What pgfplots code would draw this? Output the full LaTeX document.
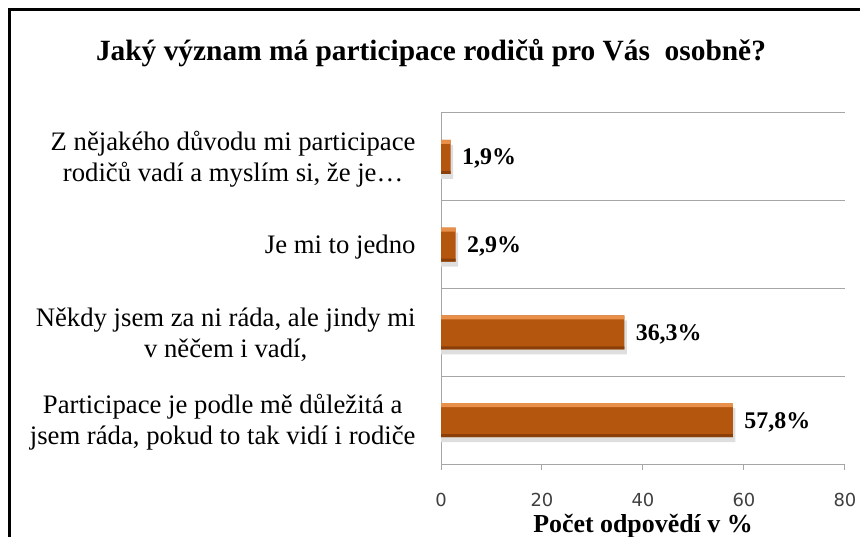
\documentclass[border=0pt]{standalone}
\usepackage{pgfplots}
\pgfplotsset{compat=1.18}
\usepackage{fontspec}
\setmainfont{Liberation Serif}
\newfontfamily\tickfont{DejaVu Sans}
\definecolor{barlight}{HTML}{E8904A}
\definecolor{barmid}{HTML}{B5560F}
\definecolor{bardark}{HTML}{8A3F08}
\definecolor{gridgray}{HTML}{A6A6A6}
\begin{document}
\begin{tikzpicture}
\path[use as bounding box] (0bp,0bp) rectangle (860bp,537bp);
\clip (0bp,0bp) rectangle (860bp,537bp);
\draw[line width=3bp] (9bp,-5bp) -- (9bp,527bp) -- (865bp,527bp);
\node[font=\fontsize{29.5}{33}\selectfont\bfseries] at (431bp,484bp) {Jaký význam má participace rodičů pro Vás \ osobně?};
\begin{axis}[
  at={(441bp,73bp)}, anchor=south west,
  scale only axis, width=404bp, height=351bp,
  xbar, bar width=34bp,
  xmin=0, xmax=80, ymin=0.5, ymax=4.5,
  xtick={0,20,40,60,80}, ytick={1,2,3,4},
  /pgf/number format/assume math mode=true,
  yticklabels={{Participace je podle mě důležitá a\\jsem ráda, pokud to tak vidí i rodiče},
               {Někdy jsem za ni ráda, ale jindy mi\\v něčem i vadí,},
               {Je mi to jedno},
               {Z nějakého důvodu mi participace\\rodičů vadí a myslím si, že je…}},
  yticklabel style={align=center, font=\fontsize{26.8}{31}\selectfont, xshift=-16bp, yshift=-2bp},
  xticklabel style={font=\tickfont\fontsize{18}{20}\selectfont, text=black!75, yshift=-20bp},
  axis x line*=bottom, axis y line*=left,
  axis line style={gridgray, line width=1bp, -},
  tick align=outside, major tick length=6bp,
  xtick style={gridgray, line width=1bp},
  ytick style={draw=none},
  extra y ticks={1.5,2.5,3.5,4.5}, extra y tick labels={},
  extra y tick style={grid=major, major grid style={gridgray, line width=1bp}, tick style={draw=none}},
  xlabel={Počet odpovědí v \%},
  xlabel style={font=\fontsize{26}{30}\selectfont\bfseries, at={(axis description cs:0.5,0)}, anchor=base, yshift=-68bp},
]
% soft shadow
\addplot[draw=none, fill=black!13, bar width=34bp, bar shift=-5bp, forget plot]
  coordinates {(58.3,1) (36.8,2) (3.4,3) (2.4,4)};
% main bar
\addplot[draw=none, fill=barmid, bar width=34bp, bar shift=0bp,
  point meta=x,
  nodes near coords={\pgfmathprintnumber[fixed, fixed zerofill, precision=1, use comma]{\pgfplotspointmeta}\%},
  every node near coord/.append style={font=\fontsize{24}{28}\selectfont\bfseries, anchor=west, xshift=8bp, yshift=-2bp, text=black}]
  coordinates {(57.8,1) (36.3,2) (2.9,3) (1.9,4)};
% top highlight
\addplot[draw=none, fill=barlight, bar width=4bp, bar shift=15bp, forget plot]
  coordinates {(57.8,1) (36.3,2) (2.9,3) (1.9,4)};
% bottom dark edge
\addplot[draw=none, fill=bardark, bar width=3bp, bar shift=-15.5bp, forget plot]
  coordinates {(57.8,1) (36.3,2) (2.9,3) (1.9,4)};
\end{axis}
\end{tikzpicture}
\end{document}
